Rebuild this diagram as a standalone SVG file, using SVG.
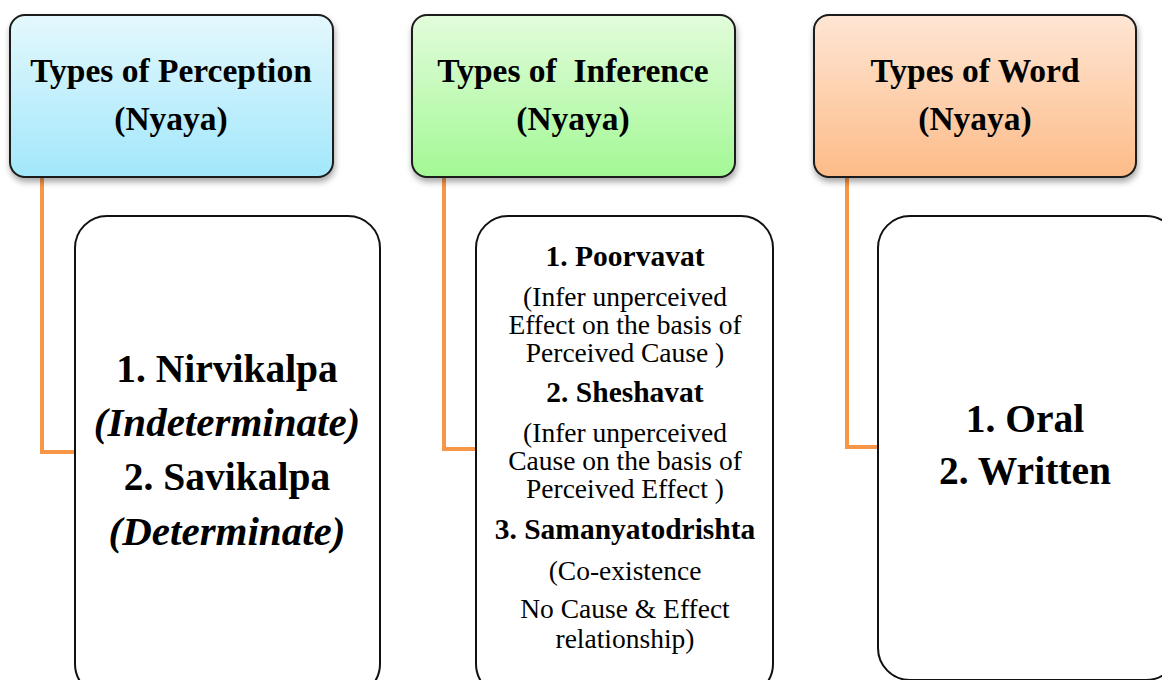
<svg xmlns="http://www.w3.org/2000/svg" width="1162" height="680" viewBox="0 0 1162 680">
<style>
.hdr{stroke:#1a1a1a;stroke-width:2}
.body{fill:#fff;stroke:#111;stroke-width:2}
.t{font-family:"Liberation Serif","DejaVu Serif",serif;fill:#000;text-anchor:middle}
.h{font-size:33.5px;font-weight:bold}
.big{font-size:39.5px;font-weight:bold}
.bi{font-size:41px;font-weight:bold;font-style:italic}
.mb{font-size:29.5px;font-weight:bold}
.m{font-size:27.5px}
.conn{fill:none;stroke:#f79646;stroke-width:4}
</style>
<defs>
<linearGradient id="gb" x1="0" y1="0" x2="0" y2="1"><stop offset="0" stop-color="#e4f8fd"/><stop offset="1" stop-color="#a2e7fb"/></linearGradient>
<linearGradient id="gg" x1="0" y1="0" x2="0" y2="1"><stop offset="0" stop-color="#e2fcdb"/><stop offset="1" stop-color="#a3f895"/></linearGradient>
<linearGradient id="go" x1="0" y1="0" x2="0" y2="1"><stop offset="0" stop-color="#fee6d4"/><stop offset="1" stop-color="#fdbb88"/></linearGradient>
<filter id="sh" x="-10%" y="-10%" width="125%" height="130%"><feDropShadow dx="1" dy="4" stdDeviation="3" flood-color="#000" flood-opacity="0.35"/></filter>
</defs>
<rect width="1162" height="680" fill="#fff"/>
<g id="connectors">
<path class="conn" d="M42 177 V452 H76"/>
<path class="conn" d="M444 177 V449 H477"/>
<path class="conn" d="M847 177 V447 H879"/>
</g>
<g id="n1h">
<rect class="hdr" x="10" y="15" width="323" height="162" rx="15" fill="url(#gb)" filter="url(#sh)"/>
<text class="t h" x="171" y="82">Types of Perception</text>
<text class="t h" x="171" y="130">(Nyaya)</text>
</g>
<g id="n2h">
<rect class="hdr" x="412" y="15" width="323" height="162" rx="15" fill="url(#gg)" filter="url(#sh)"/>
<text class="t h" x="573" y="82" xml:space="preserve">Types of  Inference</text>
<text class="t h" x="573" y="130">(Nyaya)</text>
</g>
<g id="n3h">
<rect class="hdr" x="814" y="15" width="322" height="162" rx="15" fill="url(#go)" filter="url(#sh)"/>
<text class="t h" x="975" y="82">Types of Word</text>
<text class="t h" x="975" y="130">(Nyaya)</text>
</g>
<g id="n1b">
<rect class="body" x="75" y="216" width="305" height="480" rx="32"/>
<text class="t big" x="227" y="382">1. Nirvikalpa</text>
<text class="t bi" x="227" y="436">(Indeterminate)</text>
<text class="t big" x="227" y="490">2. Savikalpa</text>
<text class="t bi" x="227" y="545">(Determinate)</text>
</g>
<g id="n2b">
<rect class="body" x="476" y="216" width="297" height="480" rx="32"/>
<text class="t mb" x="625" y="266">1. Poorvavat</text>
<text class="t m" x="625" y="306"><tspan x="625">(Infer unperceived</tspan><tspan x="625" dy="28">Effect on the basis of</tspan><tspan x="625" dy="28">Perceived Cause )</tspan></text>
<text class="t mb" x="625" y="402">2. Sheshavat</text>
<text class="t m" x="625" y="442"><tspan x="625">(Infer unperceived</tspan><tspan x="625" dy="28">Cause on the basis of</tspan><tspan x="625" dy="28">Perceived Effect )</tspan></text>
<text class="t mb" x="625" y="539">3. Samanyatodrishta</text>
<text class="t m" x="625" y="580">(Co-existence</text>
<text class="t m" x="625" y="618"><tspan x="625">No Cause &amp; Effect</tspan><tspan x="625" dy="30">relationship)</tspan></text>
</g>
<g id="n3b">
<rect class="body" x="878" y="216" width="300" height="464" rx="32"/>
<text class="t big" x="1025" y="432">1. Oral</text>
<text class="t big" x="1025" y="484">2. Written</text>
</g>
</svg>
